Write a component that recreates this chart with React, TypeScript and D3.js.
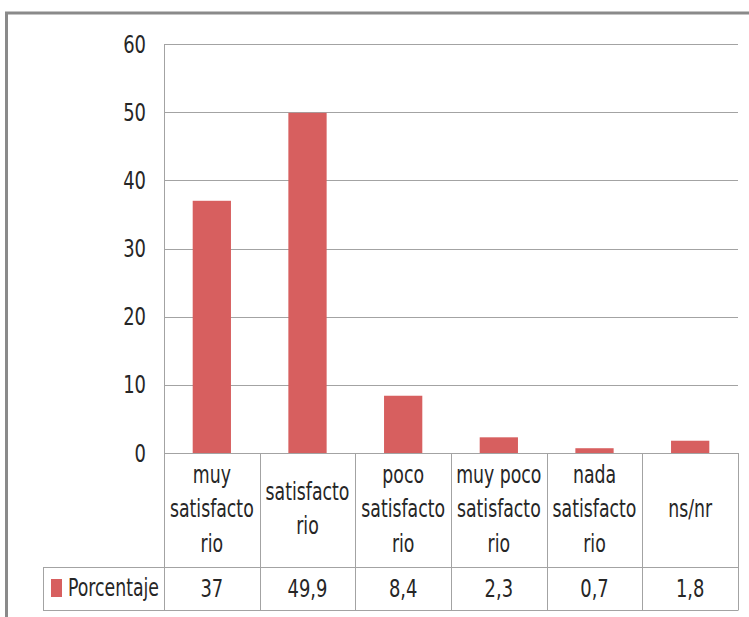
import React from "react";
import * as d3 from "d3";

const categories: string[][] = [
  ["muy", "satisfacto", "rio"],
  ["satisfacto", "rio"],
  ["poco", "satisfacto", "rio"],
  ["muy poco", "satisfacto", "rio"],
  ["nada", "satisfacto", "rio"],
  ["ns/nr"],
];
const values: number[] = [37, 49.9, 8.4, 2.3, 0.7, 1.8];
const valueLabels: string[] = ["37", "49,9", "8,4", "2,3", "0,7", "1,8"];
const yTicks: number[] = [0, 10, 20, 30, 40, 50, 60];
const seriesName = "Porcentaje";

const W = 749;
const H = 617;
const FONT = "'DejaVu Sans Condensed', 'DejaVu Sans', sans-serif";
const BAR = "#d75f5f";
const GRID = "#a3a3a3";
const TEXT = "#262626";

function T(props: { x: number; y: number; anchor?: "start" | "middle" | "end"; size: number; sx: number; children: React.ReactNode }) {
  const { x, y, anchor = "start", size, sx, children } = props;
  return (
    <text transform={`translate(${x},${y}) scale(${sx},1)`} x={0} y={0} textAnchor={anchor} fontSize={size} fill={TEXT}>
      {children}
    </text>
  );
}

export default function App() {
  const plotLeft = 164;
  const plotRight = 738;
  const plotTop = 44;
  const plotBottom = 453;
  const row1Bottom = 567;
  const row2Bottom = 610;
  const legendLeft = 43;

  const y = d3.scaleLinear().domain([0, 60]).range([plotBottom, plotTop]);
  const keys = categories.map((_, i) => String(i));
  const x = d3.scaleBand<string>().domain(keys).range([plotLeft, plotRight]).paddingInner(0).paddingOuter(0);
  const bw = x.bandwidth();
  const barW = bw * 0.4;

  const catMid = (plotBottom + row1Bottom) / 2;
  const lineH = 34.5;
  const NUM_SIZE = 24;
  const NUM_SX = 0.83;
  const TXT_SIZE = 25;
  const TXT_SX = 0.77;

  return (
    <svg width={W} height={H} style={{ position: "absolute", left: 0, top: 0 }} fontFamily={FONT}>
      <rect x={0} y={0} width={W} height={H} fill="#fff" />
      {/* outer frame */}
      <line x1={5} x2={W} y1={13} y2={13} stroke="#8a8a8a" strokeWidth={3} />
      <line x1={6.5} x2={6.5} y1={12} y2={H} stroke="#8a8a8a" strokeWidth={3} />

      {/* gridlines */}
      {yTicks.map((t) => (
        <line key={t} x1={plotLeft} x2={plotRight} y1={Math.round(y(t)) + 0.5} y2={Math.round(y(t)) + 0.5} stroke={GRID} strokeWidth={1} />
      ))}
      {/* y tick labels */}
      {yTicks.map((t) => (
        <T key={"l" + t} x={146} y={y(t) + 8.5} anchor="end" size={NUM_SIZE} sx={NUM_SX}>
          {t}
        </T>
      ))}

      {/* bars */}
      {values.map((v, i) => {
        const cx = (x(String(i)) as number) + bw / 2;
        return <rect key={i} x={cx - barW / 2} y={y(v)} width={barW} height={plotBottom - y(v)} fill={BAR} />;
      })}

      {/* table lines */}
      <line x1={plotLeft + 0.5} x2={plotLeft + 0.5} y1={plotTop} y2={row2Bottom} stroke={GRID} />
      {keys.map((k, i) => {
        const xr = Math.round((x(k) as number) + bw) + 0.5;
        return <line key={"v" + i} x1={xr} x2={xr} y1={plotBottom} y2={row2Bottom} stroke={GRID} />;
      })}
      <line x1={legendLeft} x2={plotRight + 0.5} y1={row1Bottom + 0.5} y2={row1Bottom + 0.5} stroke={GRID} />
      <line x1={legendLeft} x2={plotRight + 0.5} y1={row2Bottom + 0.5} y2={row2Bottom + 0.5} stroke={GRID} />
      <line x1={legendLeft + 0.5} x2={legendLeft + 0.5} y1={row1Bottom} y2={row2Bottom} stroke={GRID} />

      {/* category labels */}
      {categories.map((lines, i) => {
        const cx = (x(String(i)) as number) + bw / 2;
        const n = lines.length;
        return (
          <g key={"c" + i}>
            {lines.map((ln, j) => (
              <T key={j} x={cx} y={catMid + 7 + (j - (n - 1) / 2) * lineH} anchor="middle" size={TXT_SIZE} sx={TXT_SX}>
                {ln}
              </T>
            ))}
          </g>
        );
      })}

      {/* values row */}
      {valueLabels.map((vl, i) => {
        const cx = (x(String(i)) as number) + bw / 2;
        return (
          <T key={"v" + i} x={cx} y={(row1Bottom + row2Bottom) / 2 + 8.5} anchor="middle" size={NUM_SIZE} sx={NUM_SX}>
            {vl}
          </T>
        );
      })}

      {/* legend */}
      <rect x={51} y={579} width={11} height={18} fill={BAR} />
      <T x={68} y={596} size={TXT_SIZE} sx={TXT_SX}>
        {seriesName}
      </T>
    </svg>
  );
}
